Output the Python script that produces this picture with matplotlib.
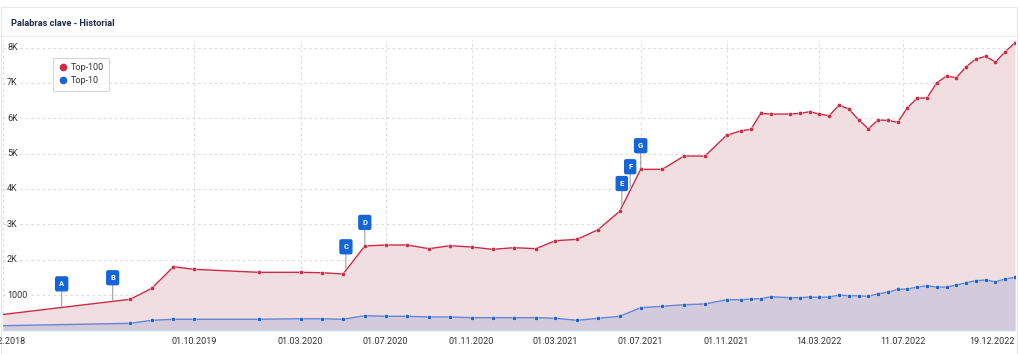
import numpy as np
import pandas as pd
import matplotlib
matplotlib.use("Agg")
import matplotlib.pyplot as plt
from matplotlib.lines import Line2D
from matplotlib.patches import Rectangle

plt.rcParams['font.family'] = ['Roboto', 'DejaVu Sans']

# === Data ===
dates = pd.to_datetime([
    "2018-12-31", "2019-07-01", "2019-08-01", "2019-09-01", "2019-10-01",
    "2020-01-01", "2020-03-01", "2020-04-01", "2020-05-01", "2020-06-01",
    "2020-07-01", "2020-08-01", "2020-09-01", "2020-10-01", "2020-11-01",
    "2020-12-01", "2021-01-01", "2021-02-01", "2021-03-01", "2021-04-01",
    "2021-05-01", "2021-06-01", "2021-07-01", "2021-08-01", "2021-09-01",
    "2021-10-01", "2021-11-01", "2021-11-22", "2021-12-06", "2021-12-20",
    "2022-01-03", "2022-01-31", "2022-02-14", "2022-02-28", "2022-03-14",
    "2022-03-28", "2022-04-11", "2022-04-25", "2022-05-09", "2022-05-23",
    "2022-06-06", "2022-06-20", "2022-07-04", "2022-07-18", "2022-08-01",
    "2022-08-15", "2022-08-29", "2022-09-12", "2022-09-26", "2022-10-10",
    "2022-10-24", "2022-11-07", "2022-11-21", "2022-12-05", "2022-12-19",
])

top100 = [
    450, 880, 1190, 1800, 1727,
    1643, 1643, 1632, 1595, 2387,
    2415, 2415, 2311, 2396, 2358,
    2293, 2340, 2311, 2537, 2576,
    2849, 3368, 4556, 4556, 4932,
    4932, 5517, 5648, 5687, 6140,
    6120, 6120, 6140, 6185, 6120,
    6072, 6374, 6261, 5959, 5704,
    5950, 5941, 5885, 6298, 6572,
    6572, 7005, 7194, 7147, 7458,
    7675, 7752, 7590, 7882, 8136,
]

top10 = [
    133, 200, 285, 314, 314,
    314, 330, 330, 314, 416,
    399, 399, 379, 379, 360,
    360, 360, 360, 342, 285,
    342, 399, 642, 682, 727,
    747, 868, 868, 888, 897,
    953, 925, 925, 945, 936,
    945, 1001, 981, 981, 964,
    1038, 1077, 1162, 1171, 1227,
    1264, 1227, 1227, 1284, 1349,
    1406, 1425, 1377, 1454, 1502,
]

flag_labels = ["A", "B", "C", "D", "E", "F", "G"]
flag_dates = pd.to_datetime(["2019-03-25", "2019-06-06", "2020-05-05", "2020-06-01",
                             "2021-06-04", "2021-06-16", "2021-07-01"])

tick_dates = pd.to_datetime(["2018-12-31", "2019-10-01", "2020-03-01", "2020-07-01",
                             "2020-11-01", "2021-03-01", "2021-07-01", "2021-11-01",
                             "2022-03-14", "2022-07-11", "2022-12-19"])
tick_labels = ["31.12.2018", "01.10.2019", "01.03.2020", "01.07.2020", "01.11.2020",
               "01.03.2021", "01.07.2021", "01.11.2021", "14.03.2022", "11.07.2022",
               "19.12.2022"]

y_ticks = [1000, 2000, 3000, 4000, 5000, 6000, 7000, 8000]
y_labels = ["1000", "2K", "3K", "4K", "5K", "6K", "7K", "8K"]

# === Colors ===
red = "#cc2a46"
red_fill = "#f1dee1"
blue_line = "#6386d6"
blue_dot = "#1f63cc"
blue_fill = "#d3cadc"
grid_col = "#dedede"

# === Figure ===
fig = plt.figure(figsize=(10.2, 3.54), dpi=100)
W, H = 1020, 354

# card + title
fig.patches.append(Rectangle((1 / W, -0.05), 1016 / W, 1.05 - 7 / H, transform=fig.transFigure,
                             facecolor="none", edgecolor="#e8e8e8", lw=0.8, zorder=-1))
fig.lines.append(Line2D([1 / W, 1017 / W], [1 - 36 / H, 1 - 36 / H], transform=fig.transFigure,
                        color="#eeeeee", lw=0.8, zorder=-1))
fig.text(11 / W, 1 - 23 / H, "Palabras clave - Historial", fontsize=6.7, fontweight="bold",
         color="#1e2a4a", va="center", ha="left")

ax = fig.add_axes([3 / W, (H - 330.4) / H, 1012 / W, (330.4 - 40.5) / H])
ax.set_facecolor("none")

x = dates
ax.fill_between(x, 0, top100, color=red_fill, lw=0, zorder=1)
ax.fill_between(x, 0, top10, color=blue_fill, lw=0, zorder=2)
ax.plot(x, top100, color=red, lw=1.0, zorder=4)
ax.plot(x, top10, color=blue_line, lw=1.0, zorder=4)
ax.plot(x[1:], top100[1:], 'o', color=red, ms=3.0, mec="white", mew=0.3, zorder=5)
ax.plot(x[1:], top10[1:], 'o', color=blue_dot, ms=3.0, mec="white", mew=0.3, zorder=5)

ax.set_xlim(dates[0], dates[-1])
ax.set_ylim(0, 8200)

# grid
ax.set_xticks(tick_dates)
ax.set_xticklabels(tick_labels, fontsize=6.5, color="#333333")
ax.get_xticklabels()[-1].set_ha("right")
ax.tick_params(axis="x", length=0, pad=5)
ax.set_yticks(y_ticks)
ax.set_yticklabels([])
ax.tick_params(axis="y", length=0)
ax.grid(True, axis="both", color=grid_col, ls=(0, (2.5, 2.5)), lw=0.8, zorder=0)
ax.set_axisbelow(True)

for s in ["top", "left", "right"]:
    ax.spines[s].set_visible(False)
ax.spines["bottom"].set_color("#ccd6eb")
ax.spines["bottom"].set_linewidth(1)

# y labels inside plot
for v, lab in zip(y_ticks, y_labels):
    ax.text(0.004, v, lab, transform=ax.get_yaxis_transform(), fontsize=6.5,
            color="#333333", ha="left", va="center", zorder=6,
            bbox=dict(facecolor="white", edgecolor="none", pad=0.6))

# flags
xnum = matplotlib.dates.date2num(dates)
for lab, d in zip(flag_labels, flag_dates):
    yv = np.interp(matplotlib.dates.date2num(d), xnum, top100)
    ax.annotate(lab, xy=(d, yv), xytext=(0, 17), textcoords="offset points",
                ha="center", va="center", fontsize=5.5, fontweight="bold", color="white",
                bbox=dict(boxstyle="round,pad=0.45,rounding_size=0.2", facecolor="#1565d8",
                          edgecolor="#1565d8"),
                arrowprops=dict(arrowstyle="-", color="#aaaaaa", lw=0.9, shrinkA=0, shrinkB=1),
                zorder=7)

# legend
handles = [Line2D([], [], marker="o", ls="none", color=red, ms=4.5),
           Line2D([], [], marker="o", ls="none", color=blue_dot, ms=4.5)]
leg = ax.legend(handles, ["Top-100", "Top-10"], loc="upper left",
                bbox_to_anchor=(48 / W, 1 - 53 / H), bbox_transform=fig.transFigure,
                fontsize=6.5, frameon=True, fancybox=True, edgecolor="#cccccc",
                handletextpad=0.2, handlelength=1.2, borderpad=0.6, labelspacing=0.5)
leg.get_frame().set_linewidth(0.8)
for t in leg.get_texts():
    t.set_color("#333333")

fig.savefig("out.png", dpi=100)
